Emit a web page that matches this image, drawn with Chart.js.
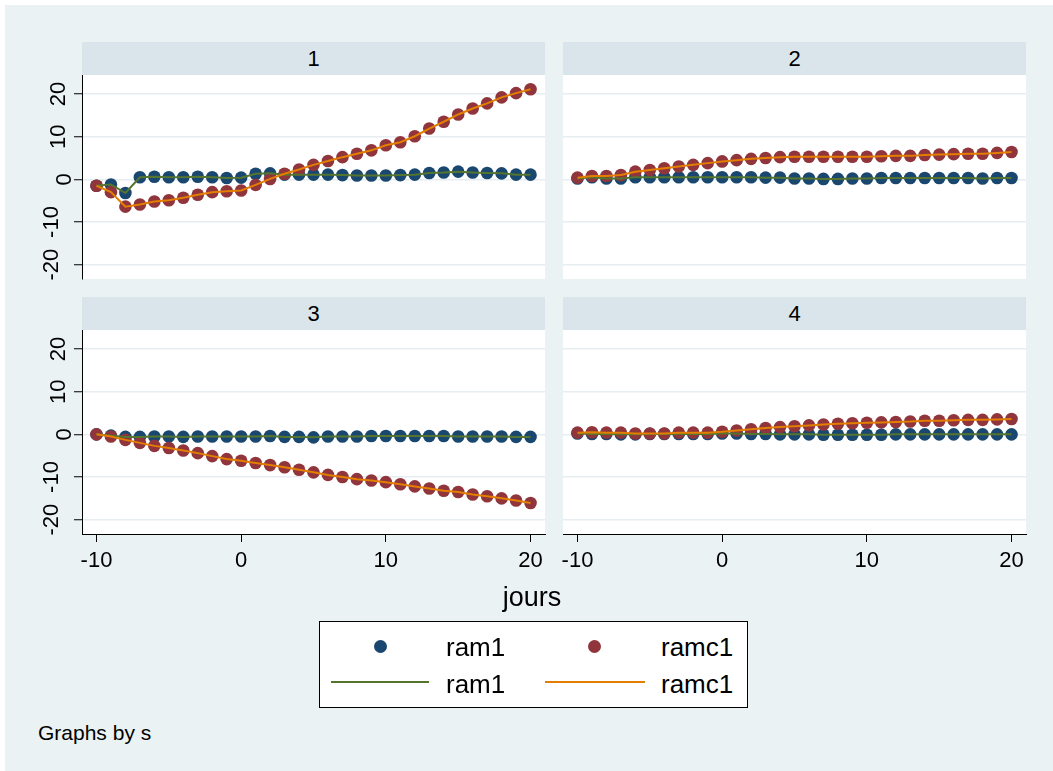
<!DOCTYPE html>
<html>
<head>
<meta charset="utf-8">
<script src="https://cdn.jsdelivr.net/npm/chart.js@4/dist/chart.umd.min.js"></script>
<style>
  html, body { margin:0; padding:0; background:#ffffff; }
  body { width:1053px; height:771px; overflow:hidden; position:relative;
         font-family:"Liberation Sans", Arial, Helvetica, sans-serif; color:#000; }
  #bg { position:absolute; left:5px; top:5px; width:1048px; height:766px; background:#eaf2f3; }
  canvas { position:absolute; z-index:1; }
  .strip { position:absolute; height:33px; line-height:33px; background:#d9e5eb;
           font-size:22px; text-align:center; z-index:2; }
  .txt { position:absolute; white-space:nowrap; line-height:1; z-index:3; }
  #legend { position:absolute; left:319px; top:621px; width:429px; height:87px;
            box-sizing:border-box; border:1px solid #000; background:#fff; z-index:3; }
  .dot { position:absolute; width:13px; height:13px; border-radius:50%; z-index:4; }
  .lline { position:absolute; height:2px; z-index:4; }
</style>
</head>
<body>
<div id="bg"></div>

<canvas id="c1" width="553" height="255" style="left:0px;top:42px;"></canvas>
<canvas id="c2" width="500" height="255" style="left:553px;top:42px;"></canvas>
<canvas id="c3" width="553" height="300" style="left:0px;top:297px;"></canvas>
<canvas id="c4" width="500" height="300" style="left:553px;top:297px;"></canvas>

<div class="strip" style="left:82px;top:42px;width:463px;">1</div>
<div class="strip" style="left:563px;top:42px;width:463px;">2</div>
<div class="strip" style="left:82px;top:297px;width:463px;">3</div>
<div class="strip" style="left:563px;top:297px;width:463px;">4</div>

<div class="txt" style="left:532px;top:597px;font-size:27px;transform:translate(-50%,-50%);">jours</div>

<div id="legend"></div>
<div class="dot" style="left:373.5px;top:639.5px;background:#1a476f;"></div>
<div class="dot" style="left:587.5px;top:639.5px;background:#90353b;"></div>
<div class="lline" style="left:331px;top:681px;width:98px;background:#55752f;"></div>
<div class="lline" style="left:545px;top:681px;width:100px;background:#e37e00;"></div>
<div class="txt" style="left:446px;top:647px;font-size:26px;transform:translateY(-50%);">ram1</div>
<div class="txt" style="left:661px;top:647px;font-size:26px;transform:translateY(-50%);">ramc1</div>
<div class="txt" style="left:446px;top:684px;font-size:26px;transform:translateY(-50%);">ram1</div>
<div class="txt" style="left:661px;top:684px;font-size:26px;transform:translateY(-50%);">ramc1</div>

<div class="txt" style="left:38px;top:732px;font-size:21px;transform:translateY(-50%);">Graphs by s</div>

<script>
// ---------------- DATA ----------------
const days = [-10,-9,-8,-7,-6,-5,-4,-3,-2,-1,0,1,2,3,4,5,6,7,8,9,10,11,12,13,14,15,16,17,18,19,20];
const xTicks = [-10, 0, 10, 20];
const yTicks = [-20, -10, 0, 10, 20];
const panelTitles = ["1", "2", "3", "4"];

const s1_ram1  = [-1.5,-1.2,-3.2,0.5,0.6,0.5,0.5,0.6,0.5,0.3,0.4,1.3,1.4,1.1,1.1,1.1,1.1,1.0,0.9,0.9,0.9,1.0,1.1,1.5,1.6,1.8,1.6,1.5,1.4,1.1,1.1];
const s1_ramc1 = [-1.5,-3.0,-6.4,-5.9,-5.2,-4.9,-4.3,-3.6,-3.0,-2.8,-2.6,-1.3,0.1,1.3,2.3,3.4,4.3,5.2,6.0,6.8,8.0,8.7,10.1,11.9,13.5,15.2,16.6,17.8,19.2,20.2,21.1];

const s2_ram1  = [0.2,0.5,0.2,0.2,0.5,0.5,0.5,0.5,0.5,0.5,0.5,0.5,0.5,0.4,0.4,0.2,0.2,0.1,0.1,0.2,0.2,0.3,0.3,0.3,0.3,0.3,0.3,0.3,0.2,0.3,0.3];
const s2_ramc1 = [0.4,0.8,0.8,1.0,1.8,2.2,2.6,3.0,3.4,3.8,4.2,4.5,4.8,5.0,5.2,5.3,5.3,5.3,5.3,5.3,5.3,5.4,5.5,5.5,5.7,5.8,5.9,6.0,6.0,6.2,6.4];

const s3_ram1  = [0.0,-0.3,-0.6,-0.6,-0.5,-0.5,-0.6,-0.5,-0.5,-0.5,-0.5,-0.5,-0.4,-0.6,-0.6,-0.7,-0.5,-0.5,-0.5,-0.4,-0.4,-0.4,-0.4,-0.4,-0.4,-0.5,-0.5,-0.5,-0.5,-0.6,-0.6];
const s3_ramc1 = [0.0,-0.5,-1.3,-2.0,-2.7,-3.2,-3.8,-4.4,-5.1,-5.8,-6.2,-6.7,-7.2,-7.7,-8.3,-8.9,-9.5,-10.0,-10.5,-10.8,-11.2,-11.7,-12.2,-12.7,-13.2,-13.5,-14.1,-14.5,-15.0,-15.5,-16.1];

const s4_ram1  = [0.2,0.1,0.1,0.0,0.0,0.1,0.1,0.1,0.1,0.1,0.2,0.2,0.1,0.1,0.0,0.0,0.0,-0.1,-0.1,-0.1,-0.1,-0.1,0.0,0.0,0.0,0.0,0.0,0.0,0.0,0.0,0.0];
const s4_ramc1 = [0.4,0.5,0.4,0.4,0.2,0.2,0.2,0.4,0.4,0.4,0.6,0.9,1.2,1.5,1.7,1.9,2.1,2.3,2.5,2.6,2.7,2.8,2.9,3.0,3.2,3.2,3.3,3.4,3.4,3.5,3.6];

// ---------------- STYLE ----------------
const FONT = '"Liberation Sans", Arial, Helvetica, sans-serif';
const C_NAVY = '#1a476f', C_MAROON = '#90353b', C_GREEN = '#55752f', C_ORANGE = '#e37e00';
const GRID = '#e6eef1';

const plotBg = {
  id: 'plotBg',
  beforeDraw(chart) {
    const a = chart.chartArea, ctx = chart.ctx;
    ctx.save(); ctx.fillStyle = '#ffffff';
    ctx.fillRect(a.left, a.top, a.right - a.left, a.bottom - a.top);
    ctx.restore();
  }
};

// rotated y tick labels (Stata style), positioned from the y scale
const yLabels = {
  id: 'yLabels',
  afterDraw(chart, args, opts) {
    if (!opts || !opts.show) return;
    const s = chart.scales.y, ctx = chart.ctx;
    ctx.save();
    ctx.font = '22px ' + FONT;
    ctx.fillStyle = '#000';
    ctx.textAlign = 'center';
    ctx.textBaseline = 'middle';
    s.ticks.forEach(t => {
      const label = String(t.value);
      const y = s.getPixelForValue(t.value);
      const w = ctx.measureText(label.replace('-', '\u2212')).width;
      const x = s.right - 11 - 0.5 * w;
      ctx.save(); ctx.translate(x, y); ctx.rotate(-Math.PI / 2);
      ctx.fillText(label, 0, 0); ctx.restore();
    });
    ctx.restore();
  }
};

function pts(arr) { return days.map((d, i) => ({ x: d, y: arr[i] })); }

function makePanel(id, ram1, ramc1, showY, showX, pad) {
  new Chart(document.getElementById(id), {
    type: 'line',
    data: {
      datasets: [
        { label: 'ram1', data: pts(ram1), showLine: false, pointRadius: 6.3, pointBorderWidth: 0,
          pointBackgroundColor: C_NAVY, pointBorderColor: C_NAVY, order: 4 },
        { label: 'ramc1', data: pts(ramc1), showLine: false, pointRadius: 6.3, pointBorderWidth: 0,
          pointBackgroundColor: C_MAROON, pointBorderColor: C_MAROON, order: 3 },
        { label: 'ram1', data: pts(ram1), borderColor: C_GREEN, borderWidth: 2, pointRadius: 0,
          tension: 0, fill: false, order: 2 },
        { label: 'ramc1', data: pts(ramc1), borderColor: C_ORANGE, borderWidth: 2, pointRadius: 0,
          tension: 0, fill: false, order: 1 }
      ]
    },
    options: {
      responsive: false, animation: false, devicePixelRatio: 1, events: [],
      layout: { padding: pad },
      plugins: { legend: { display: false }, tooltip: { enabled: false }, yLabels: { show: showY } },
      scales: {
        x: {
          type: 'linear', min: -11, max: 21, display: showX,
          afterBuildTicks: s => { s.ticks = xTicks.map(v => ({ value: v })); },
          afterFit: s => { s.height = showX ? 56 : 0; },
          ticks: { font: { size: 22, family: FONT }, color: '#000', padding: 6,
                   maxRotation: 0, minRotation: 0, autoSkip: false },
          grid: { display: true, drawOnChartArea: false, drawTicks: true, tickLength: 8,
                  tickColor: '#000', tickWidth: 1 },
          border: { display: true, color: '#000', width: 1 }
        },
        y: {
          type: 'linear', min: -23.35, max: 24.45,
          afterBuildTicks: s => { s.ticks = yTicks.map(v => ({ value: v })); },
          afterFit: s => { s.width = showY ? 82 : 0; },
          ticks: { display: false },
          grid: { display: true, drawOnChartArea: true, color: GRID, lineWidth: 1.5,
                  drawTicks: showY, tickLength: 8, tickColor: '#000', tickWidth: 1 },
          border: { display: showY, color: '#000', width: 1 }
        }
      }
    },
    plugins: [plotBg, yLabels]
  });
}

makePanel('c1', s1_ram1, s1_ramc1, true,  false, { left: 0,  right: 8,  top: 33, bottom: 18 });
makePanel('c2', s2_ram1, s2_ramc1, false, false, { left: 10, right: 27, top: 33, bottom: 18 });
makePanel('c3', s3_ram1, s3_ramc1, true,  true,  { left: 0,  right: 8,  top: 33, bottom: 7 });
makePanel('c4', s4_ram1, s4_ramc1, false, true,  { left: 10, right: 27, top: 33, bottom: 7 });
</script>
</body>
</html>
